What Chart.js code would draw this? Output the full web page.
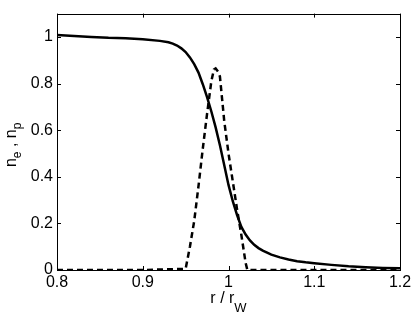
<!DOCTYPE html>
<html>
<head>
<meta charset="utf-8">
<script src="https://cdn.jsdelivr.net/npm/chart.js@4/dist/chart.umd.min.js"></script>
<style>
  html, body { margin: 0; padding: 0; background: #fff; }
  #wrap { width: 415px; height: 316px; }
</style>
</head>
<body>
<div id="wrap"><canvas id="plot"></canvas></div>
<script>
// electron density (solid)
const rE = [0.80, 0.82, 0.84, 0.86, 0.88, 0.90, 0.92, 0.93, 0.935, 0.94, 0.945, 0.95, 0.955, 0.96, 0.965, 0.97, 0.975, 0.98, 0.985, 0.99, 0.995, 1.0, 1.005, 1.01, 1.015, 1.02, 1.025, 1.03, 1.035, 1.04, 1.05, 1.06, 1.07, 1.08, 1.09, 1.10, 1.12, 1.14, 1.16, 1.18, 1.20];
const ne = [1.008, 1.004, 1.0, 0.996, 0.994, 0.99, 0.983, 0.977, 0.971, 0.963, 0.951, 0.935, 0.912, 0.883, 0.847, 0.797, 0.742, 0.68, 0.612, 0.535, 0.45, 0.365, 0.295, 0.235, 0.185, 0.152, 0.127, 0.108, 0.094, 0.083, 0.066, 0.054, 0.045, 0.038, 0.033, 0.029, 0.022, 0.016, 0.012, 0.009, 0.007];

// positron density (dashed)
const rP = [0.80, 0.90, 0.95, 0.955, 0.96, 0.965, 0.97, 0.975, 0.98, 0.983, 0.985, 0.988, 0.99, 0.995, 1.0, 1.005, 1.01, 1.015, 1.02, 1.022, 1.10, 1.20];
const np = [0, 0, 0.005, 0.1, 0.21, 0.36, 0.52, 0.67, 0.81, 0.86, 0.865, 0.85, 0.83, 0.64, 0.5, 0.38, 0.26, 0.15, 0.03, 0, 0, 0];

const xTicks = [0.8, 0.9, 1.0, 1.1, 1.2];
const xTickLabels = ['0.8', '0.9', '1', '1.1', '1.2'];
const yTicks = [0, 0.2, 0.4, 0.6, 0.8, 1.0];
const yTickLabels = ['0', '0.2', '0.4', '0.6', '0.8', '1'];

const FONT = '"Liberation Sans", Arial, Helvetica, sans-serif';

function pts(xs, ys) {
    return xs.map((x, i) => ({ x: x, y: ys[i] }));
}

// text with subscripts, parts = [text, size, drop]
function drawParts(ctx, parts, cx, y) {
    let total = 0;
    parts.forEach(p => { ctx.font = p[1] + 'px ' + FONT; total += ctx.measureText(p[0]).width; });
    let x = cx - total / 2;
    parts.forEach(p => {
        ctx.font = p[1] + 'px ' + FONT;
        ctx.fillText(p[0], x, y + p[2]);
        x += ctx.measureText(p[0]).width;
    });
}

// draws the matlab style box, inward ticks and the axis labels
const boxPlugin = {
    id: 'box',
    afterDraw(chart) {
        const ctx = chart.ctx;
        const a = chart.chartArea;
        const xs = chart.scales.x;
        const ys = chart.scales.y;
        ctx.save();
        ctx.strokeStyle = '#000';
        ctx.lineWidth = 1;
        ctx.strokeRect(Math.round(a.left) + 0.5, Math.round(a.top) + 0.5,
            Math.round(a.right - a.left), Math.round(a.bottom - a.top));

        const tl = 4;
        ctx.beginPath();
        xTicks.forEach(v => {
            const px = Math.round(xs.getPixelForValue(v)) + 0.5;
            ctx.moveTo(px, a.bottom); ctx.lineTo(px, a.bottom - tl);
            ctx.moveTo(px, a.top); ctx.lineTo(px, a.top + tl);
        });
        yTicks.forEach(v => {
            const py = Math.round(ys.getPixelForValue(v)) + 0.5;
            ctx.moveTo(a.left, py); ctx.lineTo(a.left + tl, py);
            ctx.moveTo(a.right, py); ctx.lineTo(a.right - tl, py);
        });
        ctx.stroke();

        ctx.fillStyle = '#000';
        ctx.textBaseline = 'alphabetic';

        // x label: r / r_W
        drawParts(ctx, [['r / r', 16, 0], ['W', 13, 9]], (a.left + a.right) / 2, 303);

        // y label: n_e , n_p (rotated)
        ctx.translate(16, (a.top + a.bottom) / 2 + 3);
        ctx.rotate(-Math.PI / 2);
        drawParts(ctx, [['n', 16, 0], ['e', 12, 5], [' , ', 16, 0], ['n', 16, 0], ['p', 12, 5]], 0, 0);
        ctx.restore();
    }
};

const chart = new Chart(document.getElementById('plot').getContext('2d'), {
    type: 'scatter',
    data: {
        datasets: [{
            data: pts(rE, ne),
            showLine: true,
            borderColor: '#000',
            borderWidth: 2.5,
            pointRadius: 0,
            tension: 0
        }, {
            data: pts(rP, np),
            showLine: true,
            borderColor: '#000',
            borderWidth: 2.5,
            borderDash: [6, 4],
            pointRadius: 0,
            tension: 0
        }]
    },
    options: {
        responsive: true,
        maintainAspectRatio: false,
        animation: false,
        devicePixelRatio: 1,
        layout: { padding: { top: 8, right: 15, left: 0, bottom: 0 } },
        plugins: {
            legend: { display: false },
            tooltip: { enabled: false }
        },
        scales: {
            x: {
                type: 'linear',
                min: 0.8,
                max: 1.2,
                afterBuildTicks: s => { s.ticks = xTicks.map(v => ({ value: v })); },
                afterFit: s => { s.height = 46; },
                grid: { display: false, drawTicks: false },
                border: { display: false },
                ticks: {
                    padding: 3,
                    color: '#000',
                    font: { family: FONT, size: 16 },
                    callback: (v, i) => xTickLabels[i]
                }
            },
            y: {
                type: 'linear',
                min: 0,
                max: 1.1,
                afterBuildTicks: s => { s.ticks = yTicks.map(v => ({ value: v })); },
                afterFit: s => { s.width = 57; },
                grid: { display: false, drawTicks: false },
                border: { display: false },
                ticks: {
                    padding: 4,
                    color: '#000',
                    font: { family: FONT, size: 16 },
                    callback: (v, i) => yTickLabels[i]
                }
            }
        }
    },
    plugins: [boxPlugin]
});
</script>
</body>
</html>
